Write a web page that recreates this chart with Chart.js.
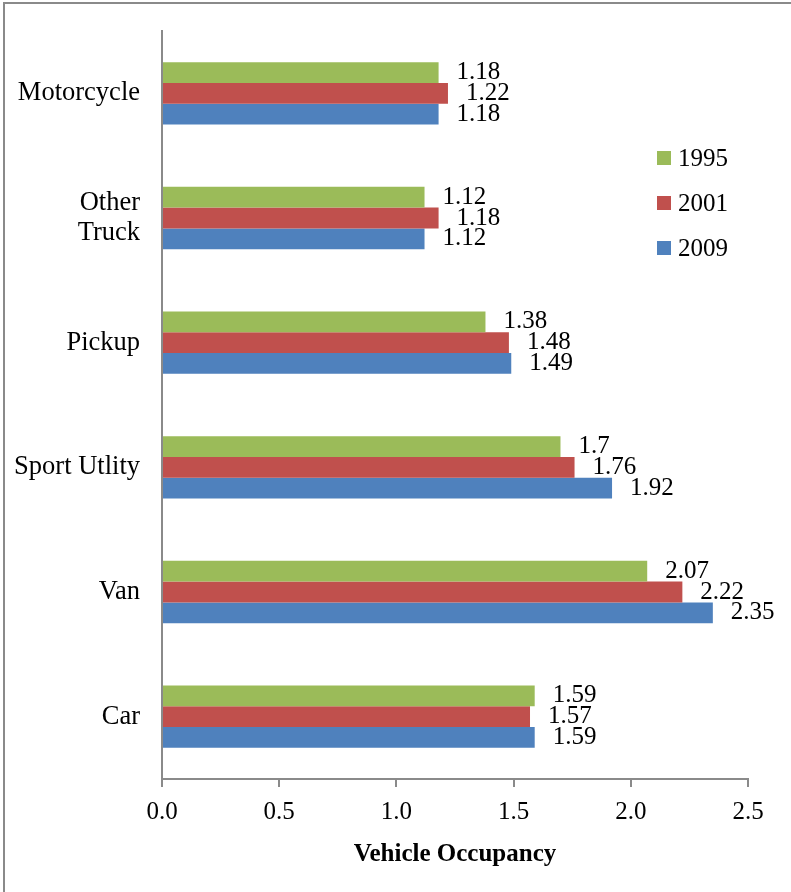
<!DOCTYPE html>
<html>
<head>
<meta charset="utf-8">
<script src="https://cdn.jsdelivr.net/npm/chart.js@4.4.0/dist/chart.umd.min.js"></script>
<style>
  html, body { margin: 0; padding: 0; background: #fff; }
  #wrap { width: 791px; height: 892px; position: relative; }
</style>
</head>
<body>
<div id="wrap"><canvas id="myChart"></canvas></div>
<script>
const categories = ['Motorcycle', ['Other', 'Truck'], 'Pickup', 'Sport Utlity', 'Van', 'Car'];
const years = ['1995', '2001', '2009'];
const values1995 = [1.18, 1.12, 1.38, 1.7, 2.07, 1.59];
const values2001 = [1.22, 1.18, 1.48, 1.76, 2.22, 1.57];
const values2009 = [1.18, 1.12, 1.49, 1.92, 2.35, 1.59];
const colors = ['#9BBB59', '#C0504D', '#4F81BD'];

const serif = "'Liberation Serif', 'Times New Roman', serif";

// value labels to the right of each bar
const barLabels = {
  id: 'barLabels',
  afterDatasetsDraw(chart) {
    const c = chart.ctx;
    c.save();
    c.font = '25px ' + serif;
    c.fillStyle = '#000';
    c.textAlign = 'left';
    c.textBaseline = 'middle';
    chart.data.datasets.forEach((ds, i) => {
      chart.getDatasetMeta(i).data.forEach((bar, j) => {
        c.fillText(String(ds.data[j]), bar.x + 18, bar.y);
      });
    });
    c.restore();
  }
};

// excel style legend + frame
const sideLegend = {
  id: 'sideLegend',
  beforeDraw(chart) {
    const c = chart.ctx;
    c.save();
    c.fillStyle = '#fff';
    c.fillRect(0, 0, chart.width, chart.height);
    c.strokeStyle = '#8a8a8a';
    c.lineWidth = 2;
    c.beginPath();
    c.moveTo(4, chart.height);
    c.lineTo(4, 3);
    c.lineTo(chart.width, 3);
    c.stroke();
    c.restore();
  },
  afterDraw(chart) {
    const c = chart.ctx;
    c.save();
    c.font = '25px ' + serif;
    c.textAlign = 'left';
    c.textBaseline = 'middle';
    chart.data.datasets.forEach((ds, i) => {
      const y = 158 + i * 45;
      c.fillStyle = ds.backgroundColor;
      c.fillRect(657, y - 7, 14, 14);
      c.fillStyle = '#000';
      c.fillText(ds.label, 678, y + 1);
    });
    c.restore();
  }
};

const ctx = document.getElementById('myChart');

const myChart = new Chart(ctx, {
  type: 'bar',
  data: {
    labels: categories,
    datasets: [
      { label: years[0], data: values1995, backgroundColor: colors[0] },
      { label: years[1], data: values2001, backgroundColor: colors[1] },
      { label: years[2], data: values2009, backgroundColor: colors[2] }
    ]
  },
  plugins: [sideLegend, barLabels],
  options: {
    indexAxis: 'y',
    responsive: true,
    maintainAspectRatio: false,
    animation: false,
    devicePixelRatio: 1,
    barPercentage: 1.0,
    categoryPercentage: 0.5,
    layout: { padding: { left: 10, right: 43, top: 31, bottom: 22 } },
    plugins: {
      legend: { display: false },
      tooltip: { enabled: false }
    },
    scales: {
      x: {
        min: 0,
        max: 2.5,
        ticks: {
          stepSize: 0.5,
          color: '#000',
          padding: 10,
          font: { family: serif, size: 25 },
          callback: (v) => Number(v).toFixed(1)
        },
        grid: { drawOnChartArea: false, drawTicks: true, tickLength: 8, color: '#8a8a8a', lineWidth: 2 },
        border: { display: true, color: '#8a8a8a', width: 2 },
        title: {
          display: true,
          text: 'Vehicle Occupancy',
          color: '#000',
          font: { family: serif, size: 25, weight: 'bold' },
          padding: { top: 3, bottom: 0 }
        }
      },
      y: {
        afterFit(scale) { scale.width = 152; },
        ticks: {
          color: '#000',
          padding: 14,
          font: { family: serif, size: 26.5, lineHeight: 1.13 }
        },
        grid: { display: false },
        border: { display: true, color: '#8a8a8a', width: 2 }
      }
    }
  }
});
</script>
</body>
</html>
